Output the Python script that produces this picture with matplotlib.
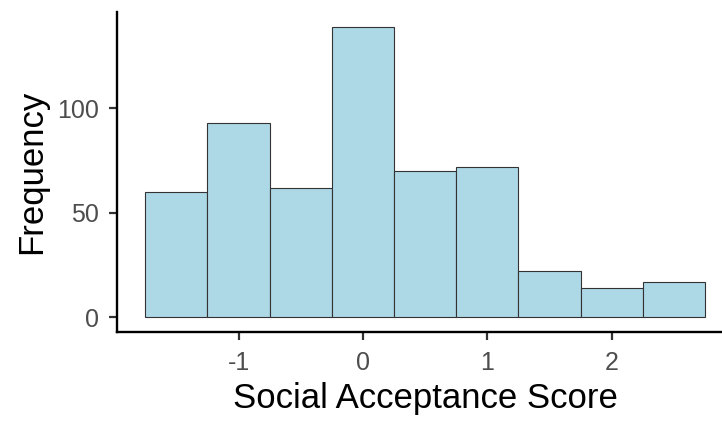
import matplotlib
matplotlib.use("Agg")
import matplotlib.pyplot as plt
import numpy as np

bin_centers = [-1.5, -1.0, -0.5, 0.0, 0.5, 1.0, 1.5, 2.0, 2.5]
counts = [60, 93, 62, 139, 70, 72, 22, 14, 17]
bin_width = 0.5
x_ticks = [-1, 0, 1, 2]
x_tick_labels = ["-1", "0", "1", "2"]
y_ticks = [0, 50, 100]
y_tick_labels = ["0", "50", "100"]

plt.rcParams['font.family'] = ['Liberation Sans', 'DejaVu Sans']

fig = plt.figure(figsize=(7.22, 4.22), dpi=100)
ax = fig.add_axes([117.3/722, 1-332/422, (733-117.3)/722, (332-12)/422])

ax.bar(bin_centers, counts, width=bin_width, color='#ADD8E6',
       edgecolor='#333333', linewidth=0.8)

ax.set_xlim(-1.975, 2.975)
ax.set_ylim(-6.95, 145.95)
ax.set_xticks(x_ticks)
ax.set_xticklabels(x_tick_labels)
ax.set_yticks(y_ticks)
ax.set_yticklabels(y_tick_labels)

for s in ['top', 'right']:
    ax.spines[s].set_visible(False)
for s in ['left', 'bottom']:
    ax.spines[s].set_linewidth(1.7)
    ax.spines[s].set_color('black')

ax.tick_params(axis='both', length=5.5, width=1.6, color='#333333',
               labelsize=18, labelcolor='#4D4D4D', pad=8)
ax.set_xlabel('Social Acceptance Score', fontsize=25, color='black', labelpad=5.5)
ax.set_ylabel('Frequency', fontsize=25, color='black', labelpad=6.5)

fig.savefig('out.png', dpi=100)
